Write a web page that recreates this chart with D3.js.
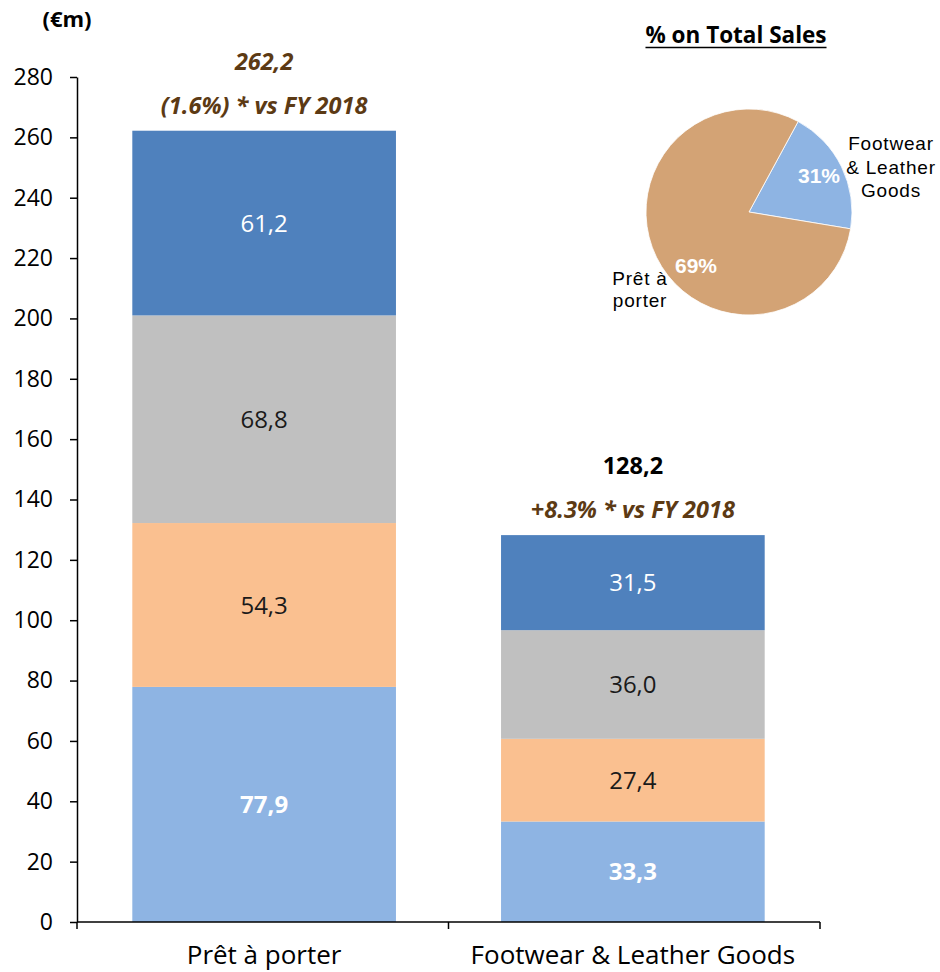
<!DOCTYPE html>
<html><head><meta charset="utf-8">
<script src="https://cdn.jsdelivr.net/npm/d3@7"></script>
<style>body{margin:0;background:#fff}svg{display:block}</style>
</head><body><svg id="c" width="940" height="972"></svg>
<script>
const categories = ["Prêt à porter", "Footwear & Leather Goods"];
const seriesKeys = ["seg1", "seg2", "seg3", "seg4"]; // bottom to top
const seg1 = [77.9, 33.3];
const seg2 = [54.3, 27.4];
const seg3 = [68.8, 36.0];
const seg4 = [61.2, 31.5];
const totals = ["262,2", "128,2"];
const growth = ["(1.6%) * vs FY 2018", "+8.3% * vs FY 2018"];
const yTicks = [0, 20, 40, 60, 80, 100, 120, 140, 160, 180, 200, 220, 240, 260, 280];
const pieNames = ["Footwear & Leather Goods", "Prêt à porter"];
const pieDrawnShare = [19.7, 80.3]; // slice sizes as drawn in the picture
const pieLabels = ["31%", "69%"];

const colors = {seg1: "#8EB4E3", seg2: "#FAC090", seg3: "#C0C0C0", seg4: "#4F81BD"};
const labelStyle = {
  seg1: {fill: "#fff", weight: 700},
  seg2: {fill: "#1a1a1a", weight: 400},
  seg3: {fill: "#1a1a1a", weight: 400},
  seg4: {fill: "#fff", weight: 400}
};
const FONT = "'Open Sans', sans-serif";
const svg = d3.select("#c");

const rows = categories.map((c, i) => ({cat: c, seg1: seg1[i], seg2: seg2[i], seg3: seg3[i], seg4: seg4[i]}));
const stack = d3.stack().keys(seriesKeys)(rows);

const y = d3.scaleLinear().domain([0, 280]).range([922, 77]);
const x = d3.scaleBand().domain(categories).range([77, 820]).paddingInner(0.285).paddingOuter(0.15);

// bars
stack.forEach(layer => {
  svg.append("g").selectAll("rect").data(layer).join("rect")
    .attr("x", d => x(d.data.cat))
    .attr("width", x.bandwidth())
    .attr("y", d => y(d[1]))
    .attr("height", d => y(d[0]) - y(d[1]))
    .attr("fill", colors[layer.key]);
  svg.append("g").selectAll("text").data(layer).join("text")
    .attr("x", d => x(d.data.cat) + x.bandwidth() / 2)
    .attr("y", d => y((d[0] + d[1]) / 2))
    .attr("dy", "0.36em")
    .attr("text-anchor", "middle")
    .attr("font-family", FONT)
    .attr("font-size", 24)
    .attr("font-weight", labelStyle[layer.key].weight)
    .attr("fill", labelStyle[layer.key].fill)
    .text(d => (d[1] - d[0]).toFixed(1).replace(".", ","));
});

// y axis
const yAxis = d3.axisLeft(y).tickValues(yTicks).tickSize(7).tickSizeOuter(0).tickPadding(17);
const gy = svg.append("g").attr("transform", "translate(77,0)").call(yAxis);
gy.select(".domain").attr("stroke", "#000").attr("stroke-width", 1.5);
gy.selectAll(".tick line").attr("stroke", "#000").attr("stroke-width", 1.5);
gy.selectAll(".tick text").attr("font-family", FONT).attr("font-size", 23).attr("fill", "#000");

// x axis
const [x0, x1] = x.range();
const xb = [x0, (x0 + x1) / 2, x1];
const gx = svg.append("g");
gx.append("line").attr("x1", x0).attr("x2", x1).attr("y1", y(0)).attr("y2", y(0)).attr("stroke", "#000").attr("stroke-width", 1.5);
gx.selectAll("line.t").data(xb).join("line").attr("class", "t")
  .attr("x1", d => d).attr("x2", d => d).attr("y1", y(0)).attr("y2", y(0) + 7)
  .attr("stroke", "#000").attr("stroke-width", 1.5);
gx.selectAll("text").data(categories).join("text")
  .attr("x", d => x(d) + x.bandwidth() / 2)
  .attr("y", 964)
  .attr("text-anchor", "middle")
  .attr("font-family", FONT).attr("font-size", 26).attr("fill", "#000")
  .text(d => d);

// unit label
svg.append("text").attr("x", 67).attr("y", 27).attr("text-anchor", "middle")
  .attr("font-family", FONT).attr("font-size", 22).attr("font-weight", 700).text("(€m)");

// totals and growth
const totalColor = ["#5C3A14", "#000"];
const totalStyle = ["italic", "normal"];
svg.append("g").selectAll("text").data(categories).join("text")
  .attr("x", d => x(d) + x.bandwidth() / 2)
  .attr("y", (d, i) => y(d3.sum(seriesKeys, k => rows[i][k])) - 61)
  .attr("text-anchor", "middle")
  .attr("font-family", FONT).attr("font-size", 23.5).attr("font-weight", 700)
  .attr("font-style", (d, i) => totalStyle[i])
  .attr("fill", (d, i) => totalColor[i])
  .text((d, i) => totals[i]);
svg.append("g").selectAll("text").data(categories).join("text")
  .attr("x", d => x(d) + x.bandwidth() / 2)
  .attr("y", (d, i) => y(d3.sum(seriesKeys, k => rows[i][k])) - 17)
  .attr("text-anchor", "middle")
  .attr("font-family", FONT).attr("font-size", 23.5).attr("font-weight", 700)
  .attr("font-style", "italic").attr("fill", "#5C3A14")
  .text((d, i) => growth[i]);

// pie
const cx = 749, cy = 212, r = 103;
const pie = d3.pie().sort(null).value(d => d.v).startAngle(28.5 * Math.PI / 180).endAngle(28.5 * Math.PI / 180 + 2 * Math.PI);
const pieData = pie(pieNames.map((n, i) => ({n, v: pieDrawnShare[i], lab: pieLabels[i]})));
const arc = d3.arc().innerRadius(0).outerRadius(r);
const pieColors = ["#8EB4E3", "#D3A375"];
const gp = svg.append("g").attr("transform", `translate(${cx},${cy})`);
gp.selectAll("path").data(pieData).join("path").attr("d", arc)
  .attr("fill", (d, i) => pieColors[i]).attr("stroke", "#fff").attr("stroke-width", 0.8);

const pctPos = [[819 - cx, 183 - cy], [696 - cx, 273 - cy]];
gp.selectAll("text.p").data(pieData).join("text").attr("class", "p")
  .attr("x", (d, i) => pctPos[i][0]).attr("y", (d, i) => pctPos[i][1])
  .attr("text-anchor", "middle")
  .attr("font-family", "'Liberation Sans', Arial, sans-serif").attr("font-size", 21).attr("font-weight", 700)
  .attr("fill", "#fff").text(d => d.data.lab);

const nameLines = [["Footwear", "& Leather", "Goods"], ["Prêt à", "porter"]];
const namePos = [[891, 150, 23.5], [640, 285, 22]];
nameLines.forEach((lines, i) => {
  const t = svg.append("text").attr("text-anchor", "middle")
    .attr("font-family", "'Liberation Sans', Arial, sans-serif").attr("font-size", 19)
    .attr("letter-spacing", 0.8).attr("fill", "#000");
  lines.forEach((l, j) => t.append("tspan").attr("x", namePos[i][0]).attr("y", namePos[i][1] + j * namePos[i][2]).text(l));
});

// pie title
const title = svg.append("text").attr("x", 736).attr("y", 43).attr("text-anchor", "middle")
  .attr("font-family", FONT).attr("font-size", 22.5).attr("font-weight", 700).text("% on Total Sales");
const bb = title.node().getBBox();
svg.append("line").attr("x1", bb.x).attr("x2", bb.x + bb.width).attr("y1", 47.5).attr("y2", 47.5)
  .attr("stroke", "#000").attr("stroke-width", 1.5);
</script></body></html>
